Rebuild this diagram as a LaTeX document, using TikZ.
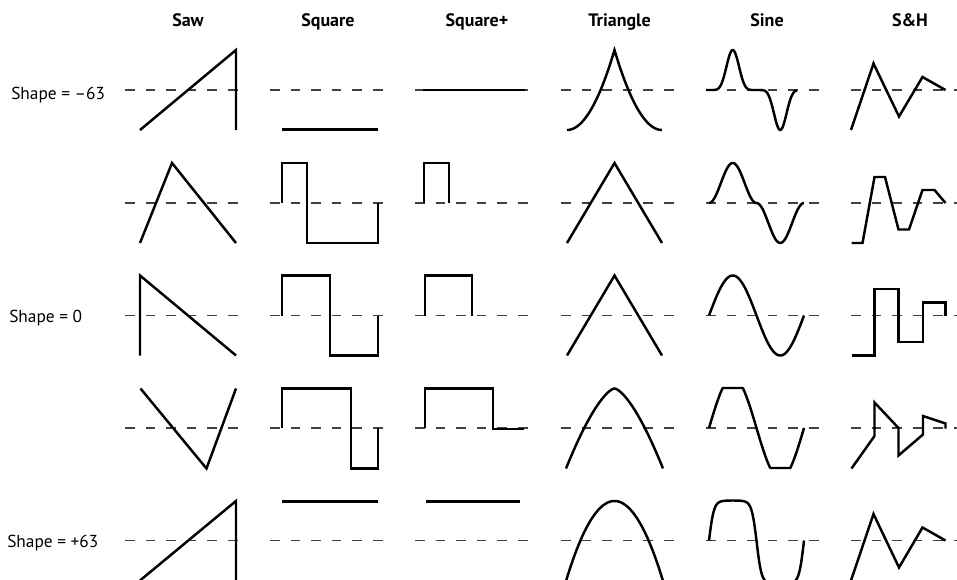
\documentclass[tikz,border=0pt]{standalone}
\usepackage{fontspec}
\setmainfont{PT Sans}
\begin{document}
\begin{tikzpicture}[x=0.75pt,y=-0.75pt,
  wave/.style={line width=1.85pt, line join=miter, draw=black},
  zeroline/.style={line width=1pt, draw=black!75, dash pattern=on 7.2pt off 8.25pt},
  head/.style={font=\fontsize{13.5}{15}\selectfont\bfseries, anchor=base, inner sep=0pt},
  rowlab/.style={font=\fontsize{13}{15}\selectfont, anchor=base west, inner sep=0pt},
  declare function={sn(\t)=sin(((\t-709)/95)*360); sa(\t)=abs(sn(\t)); sq(\t)=sa(\t)*sa(\t);}]
\clip (0,0) rectangle (957,579);
% column headings
\node[head] (hsaw) at (188,26.5) {Saw};
\node[head] (hsq) at (328,26.5) {Square};
\node[head] (hsqp) at (477,26.5) {Square+};
\node[head] (htri) at (619.5,26.5) {Triangle};
\node[head] (hsin) at (767,26.5) {Sine};
\node[head] (hsh) at (910,26.5) {S\&H};
% row labels
\node[rowlab] (lneg) at (11,99) {Shape = –63};
\node[rowlab] (lzero) at (9,322) {Shape = 0};
\node[rowlab] (lpos) at (7,547) {Shape = +63};
% zero lines
\foreach \c in {125,270,415,561,706,851}
  \foreach \r in {90,203,315.5,428,540.5}
    \draw[zeroline] (\c,\r) -- ++(113,0);
% Saw
\draw[wave] (140,130) -- (236,50) -- (236,130);
\draw[wave] (140,243) -- (172,163) -- (236,243);
\draw[wave] (140,355.5) -- (140,275.5) -- (236,355.5);
\draw[wave] (140.5,388.5) -- (206.5,468.5) -- (236,388.5);
\draw[wave] (140,580.5) -- (236,501) -- (236,580.5);
% Square
\draw[wave] (282,129.5) -- (378,129.5);
\draw[wave] (282,203) -- (282,163) -- (307,163) -- (307,243) -- (378,243) -- (378,203);
\draw[wave] (282,315.5) -- (282,275.5) -- (330,275.5) -- (330,355.5) -- (378,355.5) -- (378,315.5);
\draw[wave] (282,428) -- (282,388.5) -- (351,388.5) -- (351,468.5) -- (378,468.5) -- (378,428);
\draw[wave] (282,501.5) -- (378,501.5);
% Square+
\draw[wave] (423,90) -- (525,90);
\draw[wave] (424,203) -- (424,163) -- (449,163) -- (449,203);
\draw[wave] (425,315.5) -- (425,275.5) -- (472,275.5) -- (472,315.5);
\draw[wave] (425,428) -- (425,388.5) -- (493,388.5) -- (493,429) -- (524,429);
\draw[wave] (426,501.5) -- (520,501.5);
% Triangle
\draw[wave] plot[domain=-1:1, samples=101] ({614.5+47.5*\x}, {130-80*(1-abs(\x))*(1-abs(\x))});
\draw[wave] (567,243) -- (614.5,163) -- (662,243);
\draw[wave] (567,355.5) -- (614.5,275.5) -- (662,355.5);
\draw[wave] plot[domain=-1:1, samples=101] ({614.5+48.5*\x}, {388.5+80*abs(\x)*sqrt(abs(\x))});
\draw[wave] plot[domain=-1:1, samples=101] ({614.5+48.5*\x}, {501+80*\x*\x});
% Sine
\draw[wave] plot[domain=706:797, samples=160] (\x, {90-40*sn(\x)*sq(\x)*sq(\x)*sa(\x)});
\draw[wave] plot[domain=709:804, samples=140] (\x, {203-40*sn(\x)*sa(\x)});
\draw[wave] plot[domain=709:804, samples=140] (\x, {315.5-40*sn(\x)});
\draw[wave] plot[domain=709:804, samples=191] (\x, {428-40*max(-1,min(1,1.27*sn(\x)))});
\draw[wave] plot[domain=709:804, samples=180] (\x, {540.5-40*min(tanh(3*sn(\x))/tanh(3),1.08*tanh(3*sn(\x))/tanh(3))});
% S&H
\draw[wave] (851,130) -- (873.5,63.5) -- (899,116.5) -- (922.5,77) -- (945.5,90);
\draw[wave] (851.5,243) -- (862.5,243) -- (874.5,177) -- (885,177) -- (898.5,229.5) -- (909,229.5) -- (922.5,190) -- (934.5,190) -- (945.5,203);
\draw[wave] (851.5,355.5) -- (874.5,355.5) -- (874.5,289) -- (898.5,289) -- (898.5,342) -- (923,342) -- (923,302.5) -- (945.5,302.5) -- (945.5,315.5);
\draw[wave] (851.5,468.5) -- (874.5,436) -- (874.5,402.5) -- (898.5,428) -- (898.5,455.5) -- (923,434.5) -- (923,416) -- (945.5,423.5) -- (945.5,428.5);
\draw[wave] (851,580.5) -- (873.5,514) -- (899,567.5) -- (922.5,527.5) -- (945.5,540.5);
\end{tikzpicture}
\end{document}
